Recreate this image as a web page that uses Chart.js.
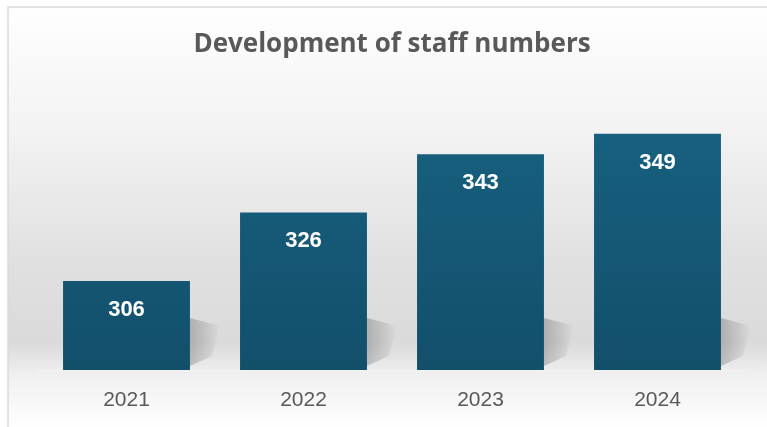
<!DOCTYPE html>
<html>
<head>
<meta charset="utf-8">
<script src="https://cdn.jsdelivr.net/npm/chart.js@4.4.1/dist/chart.umd.min.js"></script>
<style>
    html, body { margin: 0; padding: 0; background: #ffffff; }
    #wrap { width: 767px; height: 427px; position: relative; }
</style>
</head>
<body>
<div id="wrap"><canvas id="staff-canvas" width="767" height="427"></canvas></div>
<script>
const years = ['2021', '2022', '2023', '2024'];
const staff = [306, 326, 343, 349];
const titleText = 'Development of staff numbers';

// fundo cinza com borda, como no original
const fundoPlugin = {
    id: 'fundo',
    beforeDraw(chart) {
        const ctx = chart.ctx;
        const h = chart.height;
        const g = ctx.createLinearGradient(0, 0, 0, h);
        g.addColorStop(0, '#ffffff');
        g.addColorStop(0.28, '#f4f4f4');
        g.addColorStop(0.62, '#e0e0e0');
        g.addColorStop(0.8, '#dadada');
        g.addColorStop(0.88, '#f0f0f0');
        g.addColorStop(1, '#ffffff');
        ctx.save();
        ctx.fillStyle = g;
        ctx.fillRect(8, 7, chart.width - 8, h - 7);
        ctx.strokeStyle = '#d9d9d9';
        ctx.lineWidth = 1.5;
        ctx.beginPath();
        ctx.moveTo(8, h);
        ctx.lineTo(8, 7);
        ctx.lineTo(chart.width, 7);
        ctx.stroke();
        ctx.restore();
    },
    beforeDatasetsDraw(chart) {
        // sombra atrás das barras, com degradê horizontal
        const ctx = chart.ctx;
        const meta = chart.getDatasetMeta(0);
        const base = chart.chartArea.bottom; // bar.base fica fora da tela (min 280)
        ctx.save();
        meta.data.forEach(bar => {
            const right = bar.x + bar.width / 2;
            const sg = ctx.createLinearGradient(right, 0, right + 30, 0);
            sg.addColorStop(0, 'rgba(0,0,0,0.2)');
            sg.addColorStop(0.6, 'rgba(0,0,0,0.09)');
            sg.addColorStop(1, 'rgba(0,0,0,0)');
            ctx.fillStyle = sg;
            ctx.beginPath();
            ctx.moveTo(right, base - 4);
            ctx.lineTo(right, base - 52);
            ctx.lineTo(right + 30, base - 44);
            ctx.lineTo(right + 22, base - 14);
            ctx.closePath();
            ctx.fill();
        });
        ctx.restore();
        ctx.save();
        ctx.fillStyle = '#f2f2f2';
        ctx.fillRect(chart.chartArea.left, base, chart.chartArea.width, 2);
        ctx.restore();
    }
};

const rotulosPlugin = {
    id: 'rotulos',
    afterDatasetsDraw(chart) {
        const ctx = chart.ctx;
        const meta = chart.getDatasetMeta(0);
        ctx.save();
        ctx.fillStyle = '#ffffff';
        ctx.font = 'bold 22px "Liberation Sans", Arial, sans-serif';
        ctx.textAlign = 'center';
        ctx.textBaseline = 'middle';
        meta.data.forEach((bar, i) => {
            ctx.fillText(staff[i], bar.x, bar.y + 29);
        });
        ctx.restore();
    }
};

const ctx = document.getElementById('staff-canvas').getContext('2d');

function gradienteBarra(context) {
    const area = context.chart.chartArea;
    if (!area) return '#155a79';
    const g = context.chart.ctx.createLinearGradient(0, area.top, 0, area.bottom);
    g.addColorStop(0, '#17607f');
    g.addColorStop(1, '#124f6b');
    return g;
}

new Chart(ctx, {
    type: 'bar',
    data: {
        labels: years,
        datasets: [{
            data: staff,
            backgroundColor: gradienteBarra,
            borderWidth: 0,
            barPercentage: 1,
            categoryPercentage: 0.717
        }]
    },
    options: {
        responsive: false,
        animation: false,
        devicePixelRatio: 1,
        layout: {
            padding: { left: 38, right: 21, top: 0, bottom: 0 }
        },
        plugins: {
            legend: { display: false },
            tooltip: { enabled: false },
            title: {
                display: true,
                text: titleText,
                color: '#595959',
                font: { family: '"Open Sans", sans-serif', size: 26, weight: 'bold' },
                padding: { top: 29, bottom: 70 }
            }
        },
        scales: {
            x: {
                grid: { display: false, drawTicks: false },
                border: { display: false },
                afterFit(scale) {
                    scale.height = 57;
                },
                ticks: {
                    color: '#595959',
                    font: { family: '"Liberation Sans", Arial, sans-serif', size: 21 },
                    padding: 18
                }
            },
            y: {
                display: false,
                min: 280,
                max: 350
            }
        }
    },
    plugins: [fundoPlugin, rotulosPlugin]
});
</script>
</body>
</html>
